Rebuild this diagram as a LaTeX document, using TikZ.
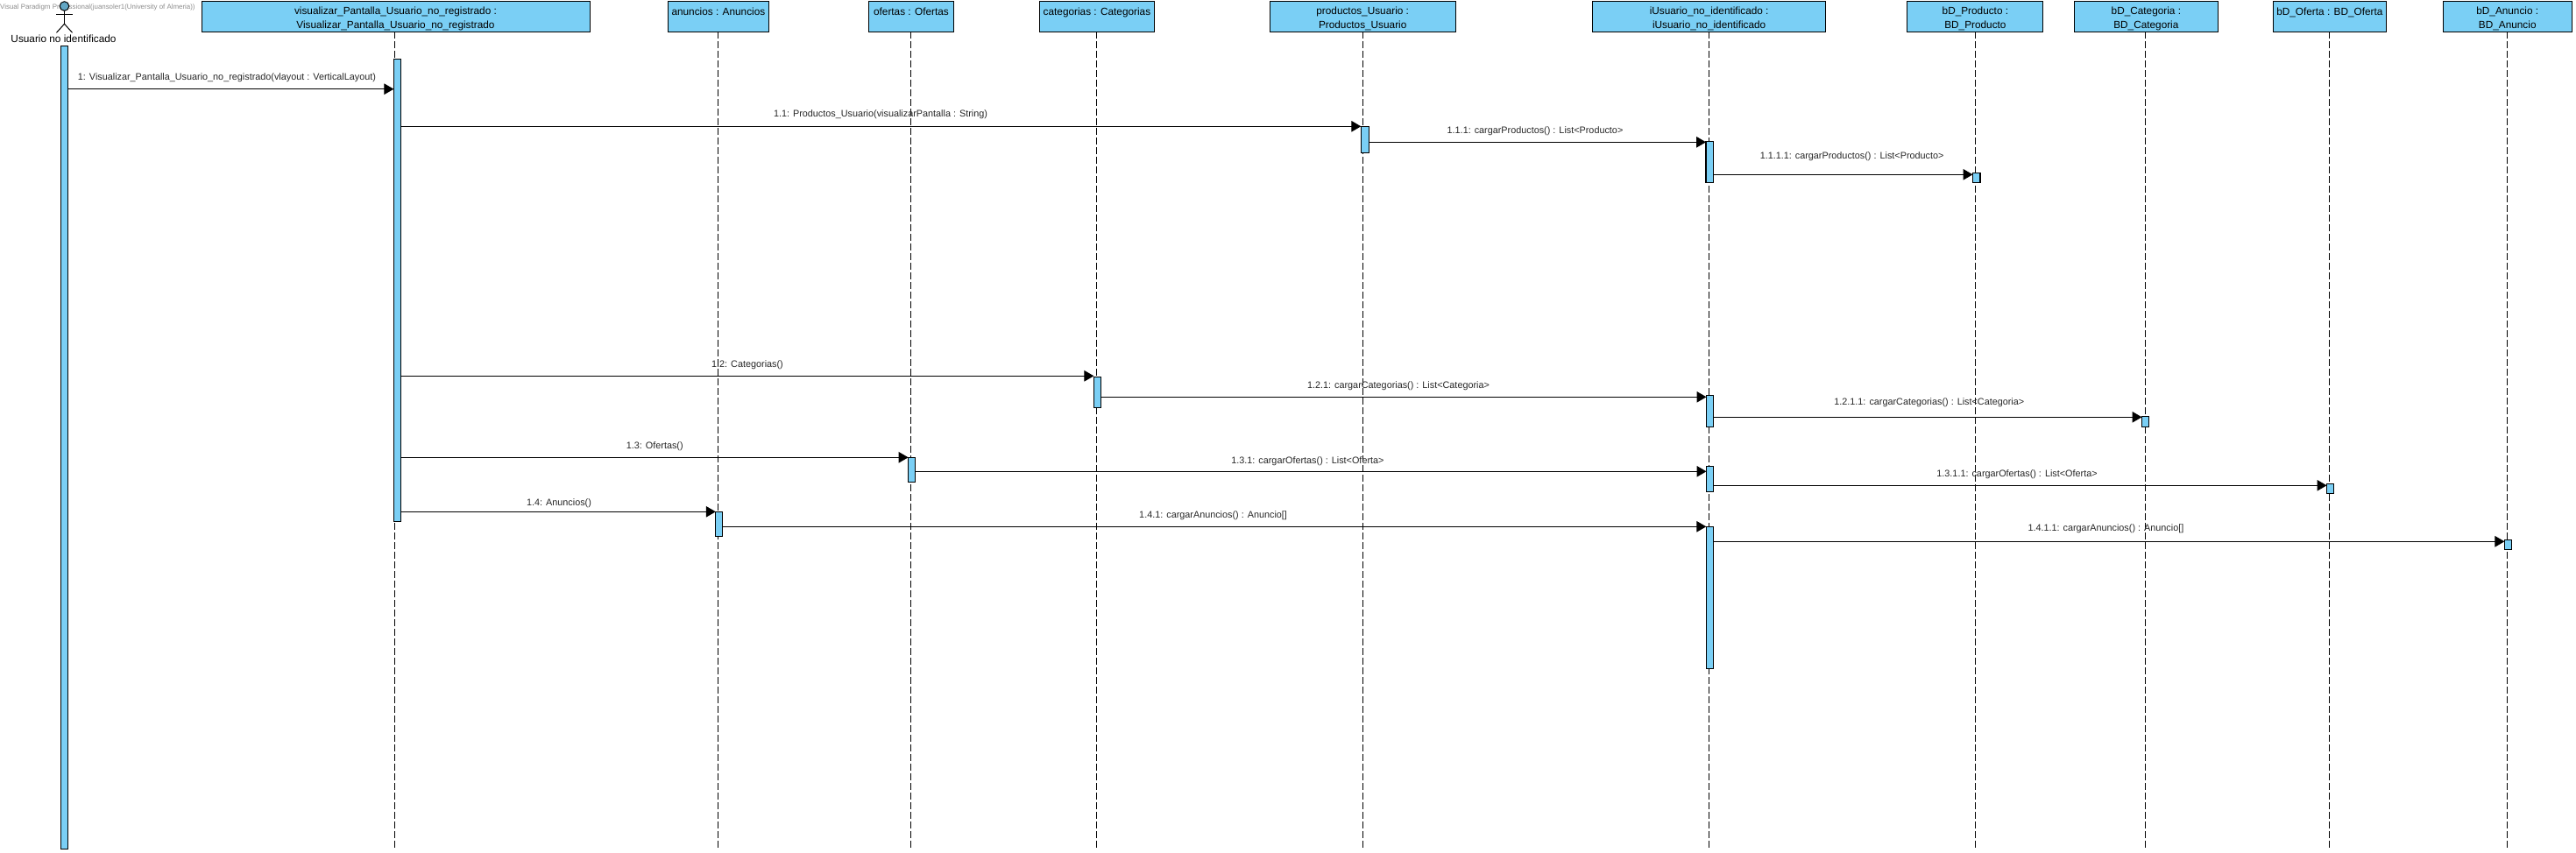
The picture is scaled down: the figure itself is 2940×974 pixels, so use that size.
\documentclass[tikz,border=0pt]{standalone}
\usepackage{fontspec}
\setmainfont{Liberation Sans}
\usetikzlibrary{arrows.meta}
\definecolor{vpblue}{HTML}{7ACFF5}
\tikzset{
  objbox/.style={draw=black,line width=1pt,fill=vpblue,inner sep=0pt,outer sep=0pt,align=center,
    font=\fontsize{11.8}{16}\selectfont},
  lifeline/.style={draw=black,line width=1pt,dash pattern=on 8pt off 3pt},
  actbar/.style={draw=black,line width=1.1pt,fill=vpblue,inner sep=0pt,outer sep=0pt},
  msgarrow/.style={draw=black,line width=1.1pt,-{Triangle[length=11pt,width=12.5pt]}},
  msglabel/.style={inner sep=0pt,anchor=base,yshift=-3.8pt,font=\fontsize{10.83}{12}\selectfont,text=black!85},
  actorline/.style={draw=black,line width=1pt},
}
\newcommand{\objnode}[6]{% name, x1, x2, text, lifeline x, lifeline end y
  \node[objbox,minimum width={(#3-#2)*1pt},minimum height=35pt] (#1) at ({(#2+#3)/2},18.8) {\rule{0pt}{13pt}#4};
  \coordinate (#1end) at (#5,#6);
  \draw[lifeline] (#1.south -| #1end) -- (#1end);
}
\newcommand{\barnode}[5]{% name, x1, y1, x2, y2
  \node[actbar,minimum width={(#4-#2)*1pt},minimum height={(#5-#3)*1pt}] (#1) at ({(#2+#4)/2},{(#3+#5)/2}) {};
}
\newcommand{\msgline}[6]{% from, to, y, label x, label y, text
  \draw[msgarrow] (#1.east |- 0,#3) -- (#2.west |- 0,#3);
  \node[msglabel] at (#4,#5) {#6};
}
\begin{document}
\begin{tikzpicture}[x=1pt,y=-1pt]
\useasboundingbox (0,0) rectangle (2940,974);
% watermark
\node[inner sep=0pt,anchor=base west,text=black!45,font=\fontsize{7.9}{10}\selectfont] (wm) at (0,10.3)
  {Visual Paradigm Professional(juansoler1(University of Almeria))};
% actor
\node[circle,draw=black,line width=1pt,fill=vpblue!80!black,minimum size=10.6pt,inner sep=0pt,outer sep=0pt] (head) at (73.5,7) {};
\coordinate (hip) at (73.5,27.3);
\coordinate (armL) at (64,16.7);
\coordinate (armR) at (83,16.7);
\coordinate (legL) at (64.5,37.3);
\coordinate (legR) at (82.5,37.3);
\draw[actorline] (head.south) -- (hip);
\draw[actorline] (armL) -- (armR);
\draw[actorline] (legL) -- (hip) -- (legR);
\node[inner sep=0pt,anchor=base,font=\fontsize{11.8}{14}\selectfont] (actorlabel) at (72.5,49) {Usuario no identificado};
% objects and lifelines
\objnode{vis}{230}{673}{visualizar\_Pantalla\_Usuario\_no\_registrado :\\Visualizar\_Pantalla\_Usuario\_no\_registrado}{450.6}{970.7}
\objnode{anu}{762.5}{877.3}{anuncios : Anuncios\\~}{819.3}{970.7}
\objnode{ofe}{991.5}{1088.4}{ofertas : Ofertas\\~}{1039.3}{970.7}
\objnode{cat}{1186.6}{1317.3}{categorias : Categorias\\~}{1251.7}{970.7}
\objnode{pro}{1449.4}{1661}{productos\_Usuario :\\Productos\_Usuario}{1555.2}{970.7}
\objnode{ius}{1817.8}{2083.5}{iUsuario\_no\_identificado :\\iUsuario\_no\_identificado}{1950.3}{970.7}
\objnode{bdp}{2176.9}{2331.9}{bD\_Producto :\\BD\_Producto}{2254.4}{970.7}
\objnode{bdc}{2367.5}{2531.2}{bD\_Categoria :\\BD\_Categoria}{2448.9}{970.7}
\objnode{bdo}{2594.4}{2723.3}{bD\_Oferta : BD\_Oferta\\~}{2658.5}{970.7}
\objnode{bda}{2788.2}{2935.3}{bD\_Anuncio :\\BD\_Anuncio}{2861}{970.7}
% activation bars
\barnode{aact}{69.3}{52.3}{77.3}{969.5}
\barnode{avis}{449.4}{67.3}{457.4}{595.3}
\barnode{apro}{1553.3}{144.3}{1562.2}{174.3}
\barnode{aius1}{1947}{161.3}{1955.4}{208.3}
\barnode{abdp}{2251.5}{197.3}{2260}{208.3}
\barnode{acat}{1248.4}{430.3}{1256.5}{465.3}
\barnode{aius2}{1947.5}{451.3}{1955.5}{487.3}
\barnode{abdc}{2444.5}{475.3}{2452.5}{487.7}
\barnode{aofe}{1036.6}{522.3}{1044.7}{550.3}
\barnode{aius3}{1947.5}{532.3}{1955.5}{561.3}
\barnode{abdo}{2655.5}{552.3}{2663.4}{563.3}
\barnode{aanu}{816.8}{584.3}{824.8}{612.3}
\barnode{aius4}{1947.3}{601.7}{1955.3}{763.3}
\barnode{abda}{2858.4}{616.3}{2866.4}{627.3}
% messages
\msgline{aact}{avis}{101.7}{259}{87.3}{1: Visualizar\_Pantalla\_Usuario\_no\_registrado(vlayout : VerticalLayout)}
\msgline{avis}{apro}{144.3}{1005}{129.3}{1.1: Productos\_Usuario(visualizarPantalla : String)}
\msgline{apro}{aius1}{162.3}{1752}{149}{1.1.1: cargarProductos() : List<Producto>}
\msgline{aius1}{abdp}{199.3}{2113.6}{177.7}{1.1.1.1: cargarProductos() : List<Producto>}
\msgline{avis}{acat}{429.3}{853}{415.7}{1.2: Categorias()}
\msgline{acat}{aius2}{453.3}{1596}{439.7}{1.2.1: cargarCategorias() : List<Categoria>}
\msgline{aius2}{abdc}{476.3}{2201.8}{459}{1.2.1.1: cargarCategorias() : List<Categoria>}
\msgline{avis}{aofe}{522.3}{747.3}{508.3}{1.3: Ofertas()}
\msgline{aofe}{aius3}{538.3}{1492.4}{525.7}{1.3.1: cargarOfertas() : List<Oferta>}
\msgline{aius3}{abdo}{554.3}{2302}{540.7}{1.3.1.1: cargarOfertas() : List<Oferta>}
\msgline{avis}{aanu}{584.3}{638}{573.3}{1.4: Anuncios()}
\msgline{aanu}{aius4}{601.3}{1384.6}{587.7}{1.4.1: cargarAnuncios() : Anuncio[]}
\msgline{aius4}{abda}{618.3}{2403.4}{602.7}{1.4.1.1: cargarAnuncios() : Anuncio[]}
\end{tikzpicture}
\end{document}
